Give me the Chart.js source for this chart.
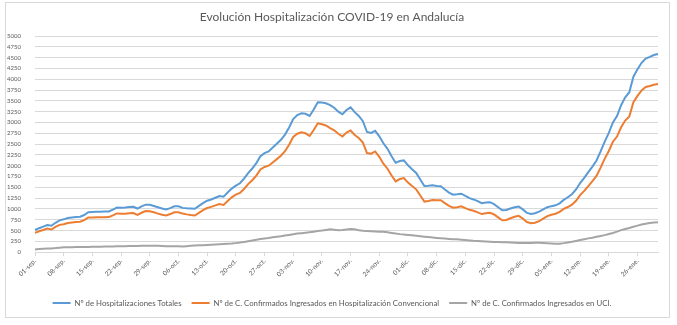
<!DOCTYPE html>
<html lang="es">
<head>
<meta charset="utf-8">
<title>Evolución Hospitalización COVID-19 en Andalucía</title>
<script src="https://cdn.jsdelivr.net/npm/chart.js@4.4.1/dist/chart.umd.min.js"></script>
<style>
  html, body { margin: 0; padding: 0; background: #ffffff; }
  #chart-box {
    position: absolute;
    left: 5px;
    top: 2px;
    width: 663px;
    height: 314px;
    border: 1px solid #d9d9d9;
    background: #ffffff;
  }
  #chart-box canvas { display: block; }
</style>
</head>
<body>
<div id="chart-box">
  <canvas id="hospChart" width="663" height="314"></canvas>
</div>
<script>
// Months covered (01-sep to 31-ene) and day counts, used to build daily labels
const months = [['sep', 30], ['oct', 31], ['nov', 30], ['dic', 31], ['ene', 31]];

const days = [];
months.forEach(([name, count]) => {
  for (let d = 1; d <= count; d++) {
    days.push(String(d).padStart(2, '0') + '-' + name + '.');
  }
});

// Nº de Hospitalizaciones Totales
const totales = [
  513, 555, 590, 630, 612, 680, 737, 760, 790, 805,
  815, 822, 860, 925, 930, 935, 938, 940, 942, 985,
  1033, 1030, 1032, 1045, 1050, 1010, 1060, 1100, 1095, 1070,
  1040, 1010, 990, 1020, 1060, 1060, 1025, 1015, 1008, 1003,
  1070, 1135, 1190, 1220, 1260, 1299, 1285, 1380, 1470, 1540,
  1594, 1700, 1830, 1936, 2060, 2220, 2290, 2330, 2420, 2510,
  2600, 2720, 2885, 3080, 3170, 3211, 3200, 3150, 3300, 3468,
  3460, 3445, 3400, 3340, 3250, 3190, 3290, 3350, 3240, 3150,
  3030, 2780, 2760, 2807, 2680, 2520, 2390, 2220, 2068, 2110,
  2123, 2010, 1920, 1834, 1680, 1530, 1535, 1547, 1530, 1524,
  1450, 1380, 1330, 1340, 1353, 1300, 1250, 1220, 1180, 1134,
  1150, 1157, 1110, 1040, 970, 975, 1010, 1040, 1057, 990,
  910, 886, 900, 940, 990, 1041, 1065, 1085, 1130, 1210,
  1270, 1340, 1450, 1600, 1719, 1850, 1980, 2120, 2330, 2559,
  2760, 3000, 3150, 3400, 3580, 3700, 4060, 4230, 4380, 4480,
  4517, 4560, 4585
];

// Nº de C. Confirmados Ingresados en Hospitalización Convencional
const convencional = [
  448, 483, 512, 545, 524, 585, 632, 648, 675, 688,
  697, 704, 740, 803, 805, 808, 810, 810, 812, 852,
  897, 892, 892, 903, 905, 864, 912, 950, 945, 922,
  893, 865, 850, 882, 924, 925, 893, 875, 860, 848,
  910, 973, 1022, 1048, 1082, 1116, 1095, 1185, 1270, 1330,
  1372, 1462, 1575, 1664, 1770, 1915, 1972, 2000, 2075, 2152,
  2230, 2335, 2485, 2665, 2740, 2771, 2750, 2688, 2825, 2980,
  2960, 2930, 2870, 2820, 2740, 2675, 2765, 2815, 2710, 2640,
  2535, 2292, 2278, 2329, 2205, 2048, 1930, 1775, 1638, 1692,
  1713, 1610, 1530, 1454, 1310, 1170, 1185, 1207, 1200, 1202,
  1135, 1072, 1028, 1042, 1063, 1020, 980, 958, 922, 882,
  902, 914, 872, 805, 738, 745, 785, 820, 842, 777,
  698, 671, 682, 720, 778, 836, 865, 890, 932, 1000,
  1045, 1100, 1190, 1320, 1419, 1530, 1645, 1765, 1955, 2164,
  2340, 2555, 2675, 2890, 3045, 3140, 3470, 3615, 3740, 3820,
  3842, 3872, 3890
];

// Nº de C. Confirmados Ingresados en UCI.
const uci = [
  65, 72, 78, 85, 88, 95, 105, 112, 115, 117,
  118, 118, 120, 122, 125, 127, 128, 130, 130, 133,
  136, 138, 140, 142, 145, 146, 148, 150, 150, 148,
  147, 145, 140, 138, 136, 135, 132, 140, 148, 155,
  160, 162, 168, 172, 178, 183, 190, 195, 200, 210,
  222, 238, 255, 272, 290, 305, 318, 330, 345, 358,
  370, 385, 400, 415, 430, 440, 450, 462, 475, 488,
  500, 515, 530, 520, 510, 515, 525, 535, 530, 510,
  495, 488, 482, 478, 475, 472, 460, 445, 430, 418,
  410, 400, 390, 380, 370, 360, 350, 340, 330, 322,
  315, 308, 302, 298, 290, 280, 270, 262, 258, 252,
  248, 243, 238, 235, 232, 230, 225, 220, 215, 213,
  212, 215, 218, 220, 212, 205, 200, 195, 198, 210,
  225, 240, 260, 280, 300, 320, 335, 355, 375, 395,
  420, 445, 475, 510, 535, 560, 590, 615, 640, 660,
  675, 688, 695
];

const FONT = 'Lato, "Open Sans", sans-serif';
const TEXT_COLOR = '#595959';
const GRID_COLOR = '#d9d9d9';

function lineSeries(label, data, color) {
  return {
    label: label,
    data: data,
    borderColor: color,
    backgroundColor: color,
    borderWidth: 2,
    pointRadius: 0,
    pointHoverRadius: 0,
    tension: 0,
    fill: false
  };
}

const ctx = document.getElementById('hospChart').getContext('2d');

new Chart(ctx, {
  type: 'line',
  data: {
    labels: days,
    datasets: [
      lineSeries('Nº de Hospitalizaciones Totales', totales, '#5b9bd5'),
      lineSeries('Nº de C. Confirmados Ingresados en Hospitalización Convencional', convencional, '#ed7d31'),
      lineSeries('Nº de C. Confirmados Ingresados en UCI.', uci, '#a5a5a5')
    ]
  },
  options: {
    responsive: false,
    animation: false,
    layout: {
      padding: { left: 0, right: 11, top: 0, bottom: 0 }
    },
    plugins: {
      title: {
        display: true,
        text: 'Evolución Hospitalización COVID-19 en Andalucía',
        color: TEXT_COLOR,
        font: { family: FONT, size: 12, weight: 'normal' },
        padding: { top: 7, bottom: 11.6 }
      },
      legend: {
        position: 'bottom',
        labels: {
          color: TEXT_COLOR,
          font: { family: FONT, size: 7.8 },
          boxWidth: 18,
          boxHeight: 2,
          padding: 10,
          // thin line swatches instead of outlined boxes
          generateLabels: function (chart) {
            const items = Chart.defaults.plugins.legend.labels.generateLabels(chart);
            items.forEach(item => { item.lineWidth = 0; });
            return items;
          }
        }
      },
      tooltip: { enabled: false }
    },
    scales: {
      x: {
        offset: false,
        grid: {
          display: true,
          drawOnChartArea: false,
          drawTicks: true,
          tickLength: 4,
          color: GRID_COLOR
        },
        border: { display: true, color: GRID_COLOR },
        ticks: {
          autoSkip: false,
          minRotation: 45,
          maxRotation: 45,
          padding: 1,
          color: TEXT_COLOR,
          font: { family: FONT, size: 6.5 },
          // one label per week, starting on 01-sep.
          callback: function (value, index) {
            return index % 7 === 0 ? days[index] : null;
          }
        },
        afterFit: function (scale) { scale.height = 37; }
      },
      y: {
        min: 0,
        max: 5000,
        grid: {
          color: GRID_COLOR,
          lineWidth: 1,
          drawTicks: false
        },
        border: { display: false },
        ticks: {
          stepSize: 250,
          padding: 14,
          color: TEXT_COLOR,
          font: { family: FONT, size: 6 },
          callback: function (value) { return String(value); }
        },
        afterFit: function (scale) { scale.width = 29; }
      }
    }
  }
});
</script>
</body>
</html>
